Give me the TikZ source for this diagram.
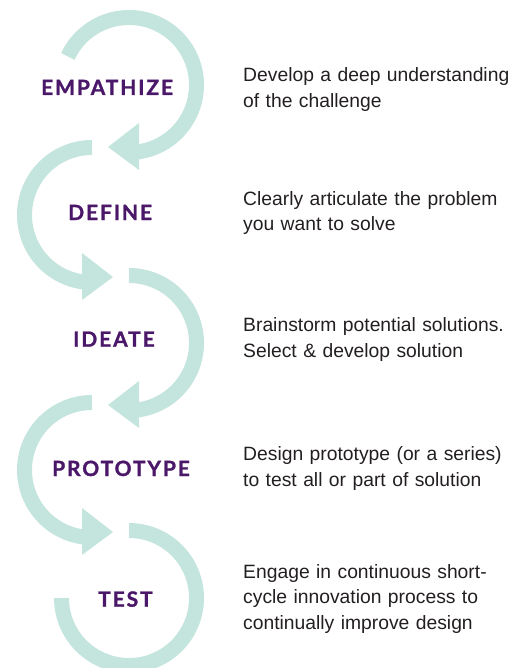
\documentclass[tikz,border=0pt]{standalone}
\usepackage{fontspec}
\setmainfont{Liberation Sans}
\newfontfamily\labelfont[LetterSpace=9,BoldFeatures={FakeBold=1.2}]{Lato}
\definecolor{bandc}{HTML}{C4E5DD}
\definecolor{lblc}{HTML}{4B1869}
\definecolor{txtc}{HTML}{231F20}
\begin{document}
\begin{tikzpicture}[x=1pt,y=1pt,
  bandline/.style={draw=bandc, line width=15pt},
  headtri/.style={fill=bandc},
  stagelabel/.style={anchor=base west, inner sep=0pt, text=lblc,
    font=\labelfont\bfseries\fontsize{21}{21}\selectfont},
  desc/.style={anchor=base west, inner sep=0pt, text=txtc, text width=285pt,
    align=left, font=\fontsize{19.3}{25.8}\selectfont}]
\useasboundingbox (0,0) rectangle (525,-668);
\coordinate (cE) at (129,-85);
\coordinate (cD) at (92,-215);
\coordinate (cI) at (129,-343);
\coordinate (cP) at (92,-470);
\coordinate (cT) at (129,-598);
% Empathize
\draw[bandline] ([shift={(155:67.5pt)}]cE) arc[start angle=155,end angle=-83,radius=67.5pt];
\fill[headtri] ([shift={(10pt,-38pt)}]cE) -- ([shift={(10pt,-85pt)}]cE) -- ([shift={(-21pt,-62pt)}]cE) -- cycle;
% Define
\draw[bandline] ([shift={(90:67.5pt)}]cD) arc[start angle=90,end angle=263,radius=67.5pt];
\fill[headtri] ([shift={(-10pt,-38pt)}]cD) -- ([shift={(-10pt,-85pt)}]cD) -- ([shift={(21pt,-62pt)}]cD) -- cycle;
% Ideate
\draw[bandline] ([shift={(90:67.5pt)}]cI) arc[start angle=90,end angle=-83,radius=67.5pt];
\fill[headtri] ([shift={(10pt,-38pt)}]cI) -- ([shift={(10pt,-85pt)}]cI) -- ([shift={(-21pt,-62pt)}]cI) -- cycle;
% Prototype
\draw[bandline] ([shift={(90:67.5pt)}]cP) arc[start angle=90,end angle=263,radius=67.5pt];
\fill[headtri] ([shift={(-10pt,-38pt)}]cP) -- ([shift={(-10pt,-85pt)}]cP) -- ([shift={(21pt,-62pt)}]cP) -- cycle;
% Test
\draw[bandline] ([shift={(90:67.5pt)}]cT) arc[start angle=90,end angle=-180,radius=67.5pt];
% labels
\node[stagelabel] (lE) at (41,-95) {EMPATHIZE};
\node[stagelabel] (lD) at (68,-220) {DEFINE};
\node[stagelabel] (lI) at (73,-346.7) {IDEATE};
\node[stagelabel] (lP) at (52,-476) {PROTOTYPE};
\node[stagelabel] (lT) at (98,-606.7) {TEST};
% descriptions
\node[desc] (tE) at (243,-82) {Develop a deep understanding\\of the challenge};
\node[desc] (tD) at (243,-205) {Clearly articulate the problem\\you want to solve};
\node[desc] (tI) at (243,-331.7) {Brainstorm potential solutions.\\Select \& develop solution};
\node[desc] (tP) at (243,-460.7) {Design prototype (or a series)\\to test all or part of solution};
\node[desc] (tT) at (243,-578) {Engage in continuous short-\\cycle innovation process to\\continually improve design};
\end{tikzpicture}
\end{document}
